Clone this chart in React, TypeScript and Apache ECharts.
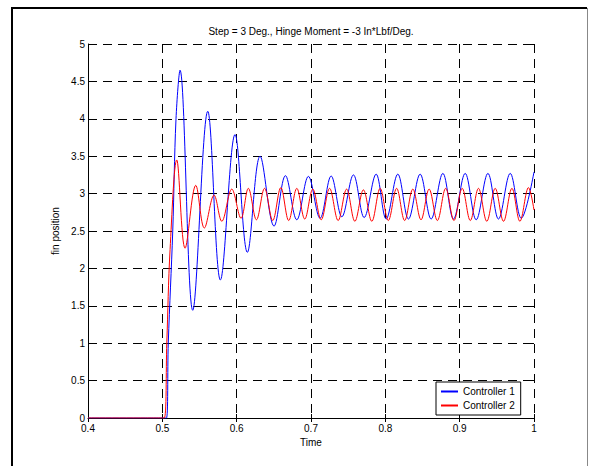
import React, { useEffect, useRef } from "react";
import * as echarts from "echarts";

const chartTitle = "Step = 3 Deg., Hinge Moment = -3 In*Lbf/Deg.";
const xAxisName = "Time";
const yAxisName = "fin position";
const seriesNames = ["Controller 1", "Controller 2"];
const seriesColors = ["#0000ff", "#ff0000"];

// Controller 1 (blue): points read at rise and at each peak / trough
const controller1: [number, number][] = [
  [0.4, 0], [0.5055, 0], [0.508, 1.0], [0.514, 2.5], [0.5184, 4.0], [0.5238, 4.65],
  [0.5409, 1.44], [0.5611, 4.1], [0.5781, 1.845], [0.5978, 3.79], [0.6144, 2.215],
  [0.6315, 3.5], [0.6503, 2.565], [0.6656, 3.24], [0.6809, 2.65], [0.6965, 3.23],
  [0.7122, 2.67], [0.7271, 3.235], [0.7415, 2.69], [0.7571, 3.25], [0.7715, 2.68],
  [0.7876, 3.26], [0.8011, 2.66], [0.8168, 3.26], [0.8311, 2.66], [0.8468, 3.26],
  [0.8616, 2.66], [0.8774, 3.27], [0.8917, 2.66], [0.9074, 3.27], [0.9222, 2.65],
  [0.938, 3.27], [0.9522, 2.66], [0.968, 3.27], [0.9828, 2.67], [1.0, 3.29],
];

// Controller 2 (red)
const controller2: [number, number][] = [
  [0.4, 0], [0.5025, 0], [0.506, 1.0], [0.5104, 2.25], [0.5194, 3.45],
  [0.5306, 2.27], [0.545, 3.11], [0.5565, 2.54], [0.5696, 2.98], [0.58, 2.63],
  [0.5934, 3.06], [0.6059, 2.67], [0.6157, 3.07], [0.6266, 2.65], [0.6375, 3.07],
  [0.6485, 2.64], [0.6594, 3.08], [0.67, 2.64], [0.6809, 3.07], [0.6916, 2.66],
  [0.7024, 3.06], [0.7137, 2.65], [0.725, 3.07], [0.7365, 2.64], [0.7479, 3.06],
  [0.759, 2.63], [0.7705, 3.05], [0.7818, 2.63], [0.793, 3.07], [0.804, 2.64],
  [0.8152, 3.07], [0.826, 2.64], [0.837, 3.06], [0.848, 2.65], [0.8589, 3.06],
  [0.87, 2.64], [0.8812, 3.07], [0.8923, 2.64], [0.9034, 3.07], [0.9143, 2.64],
  [0.9253, 3.07], [0.9365, 2.63], [0.9478, 3.07], [0.959, 2.63], [0.9703, 3.07],
  [0.981, 2.63], [0.9926, 3.08], [1.0, 2.78],
];

const FONT = "'Liberation Sans', Arial, Helvetica, sans-serif";
const FS = 10;

export default function App() {
  const ref = useRef<HTMLDivElement>(null);
  useEffect(() => {
    if (!ref.current) return;
    const chart = echarts.init(ref.current, undefined, { renderer: "svg" });
    const dash = [9, 6];
    const fmt = (v: number) => String(parseFloat(v.toFixed(2)));
    chart.setOption({
      animation: false,
      backgroundColor: "#ffffff",
      textStyle: { fontFamily: FONT },
      grid: { left: 88, right: 55, top: 44, bottom: 48, containLabel: false },
      xAxis: [
        {
          type: "value",
          min: 0.4,
          max: 1,
          interval: 0.1,
          name: xAxisName,
          nameLocation: "middle",
          nameGap: 15,
          nameTextStyle: { fontSize: FS, color: "#000", fontFamily: FONT },
          axisLine: { show: true, lineStyle: { color: "#000", width: 1 } },
          axisTick: { show: true, inside: true, length: 4, lineStyle: { color: "#000" } },
          axisLabel: { fontSize: FS, color: "#000", fontFamily: FONT, margin: 5, formatter: fmt },
          splitLine: { show: true, lineStyle: { color: "#000", width: 1, type: dash } },
        },
        {
          type: "value",
          position: "top",
          min: 0.4,
          max: 1,
          interval: 0.1,
          axisLine: { show: false },
          axisTick: { show: true, inside: true, length: 4, lineStyle: { color: "#000" } },
          axisLabel: { show: false },
          splitLine: { show: false },
        },
      ],
      yAxis: [
        {
          type: "value",
          min: 0,
          max: 5,
          interval: 0.5,
          name: yAxisName,
          nameLocation: "middle",
          nameGap: 18,
          nameTextStyle: { fontSize: FS, color: "#000", fontFamily: FONT },
          axisLine: { show: true, lineStyle: { color: "#000", width: 1 } },
          axisTick: { show: true, inside: true, length: 4, lineStyle: { color: "#000" } },
          axisLabel: { fontSize: FS, color: "#000", fontFamily: FONT, margin: 3, formatter: fmt },
          splitLine: { show: true, lineStyle: { color: "#000", width: 1, type: dash } },
        },
        {
          type: "value",
          position: "right",
          min: 0,
          max: 5,
          interval: 0.5,
          axisLine: { show: false },
          axisTick: { show: true, inside: true, length: 4, lineStyle: { color: "#000" } },
          axisLabel: { show: false },
          splitLine: { show: false },
        },
      ],
      legend: {
        show: true,
        orient: "vertical",
        left: 436,
        top: 382,
        padding: [3, 6, 3, 5],
        itemGap: 1,
        itemWidth: 17,
        itemHeight: 2,
        icon: "rect",
        borderColor: "#000",
        borderWidth: 1,
        borderRadius: 0,
        backgroundColor: "#fff",
        textStyle: { fontSize: FS, color: "#000", fontFamily: FONT, padding: [0, 0, 0, 0], lineHeight: 13 },
        data: seriesNames.map((n, i) => ({ name: n, itemStyle: { color: seriesColors[i] } })),
      },
      graphic: [
        {
          type: "text",
          x: 311,
          y: 31,
          style: {
            text: chartTitle,
            fontSize: FS,
            fontFamily: FONT,
            fill: "#000",
            align: "center",
            verticalAlign: "middle",
          },
        },
        { type: "line", shape: { x1: 12, y1: 8, x2: 587, y2: 8 }, style: { stroke: "#000", lineWidth: 2 } },
        { type: "line", shape: { x1: 12, y1: 7, x2: 12, y2: 466 }, style: { stroke: "#000", lineWidth: 2 } },
        { type: "line", shape: { x1: 587.5, y1: 8, x2: 587.5, y2: 466 }, style: { stroke: "#888", lineWidth: 1 } },
      ],
      series: [
        {
          name: seriesNames[0],
          type: "line",
          data: controller1,
          smooth: 0.36,
          symbol: "none",
          lineStyle: { color: seriesColors[0], width: 1 },
          itemStyle: { color: seriesColors[0] },
          z: 3,
        },
        {
          name: seriesNames[1],
          type: "line",
          data: controller2,
          smooth: 0.36,
          symbol: "none",
          lineStyle: { color: seriesColors[1], width: 1 },
          itemStyle: { color: seriesColors[1] },
          z: 4,
        },
      ],
    });
    return () => chart.dispose();
  }, []);
  return (
    <div
      ref={ref}
      style={{ position: "fixed", left: 0, top: 0, width: 589, height: 466 }}
    />
  );
}
